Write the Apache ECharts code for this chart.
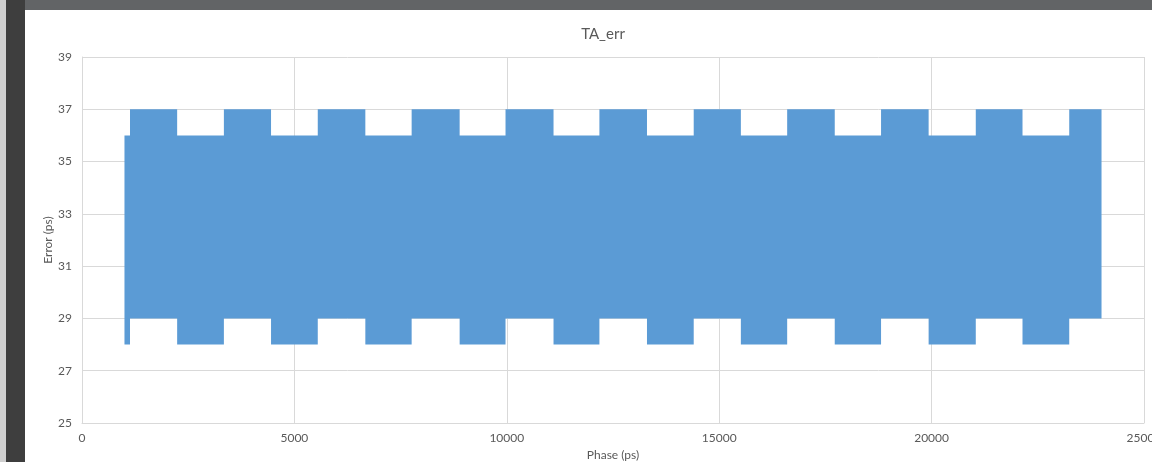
<!DOCTYPE html>
<html>
<head>
<meta charset="utf-8">
<title>TA_err</title>
<script src="https://cdn.jsdelivr.net/npm/echarts@6/dist/echarts.min.js"></script>
<style>
  html, body { margin: 0; padding: 0; }
  body { width: 1152px; height: 462px; position: relative; overflow: hidden; background: #5a5a5a; }
  .edge { position: absolute; left: 0; top: 0; width: 6px; height: 462px; background: #cfcfcf; }
  .strip { position: absolute; left: 6px; top: 0; width: 19px; height: 462px; background: #3e3e3e; }
  .topbar { position: absolute; left: 25px; top: 0; width: 1127px; height: 10px; background: #626466; }
  .paper { position: absolute; left: 25px; top: 10px; width: 1127px; height: 452px; background: #fff; }
  #main { position: absolute; left: 0; top: 0; width: 1152px; height: 462px; }
</style>
</head>
<body>
<div class="edge"></div>
<div class="strip"></div>
<div class="topbar"></div>
<div class="paper"></div>
<div id="main"></div>
<script>
// phase where each step of the error band starts / ends (ps)
const phaseEdges = [1000, 1130, 2240, 3340, 4450, 5550, 6670, 7760, 8890, 9970, 11100,
  12180, 13300, 14400, 15510, 16600, 17720, 18810, 19930, 21040, 22140, 23240, 24000]
// band top / bottom for each step (ps)
const errHigh = [36, 37, 36, 37, 36, 37, 36, 37, 36, 37, 36, 37, 36, 37, 36, 37, 36, 37, 36, 37, 36, 37]
const errLow  = [28, 29, 28, 29, 28, 29, 28, 29, 28, 29, 28, 29, 28, 29, 28, 29, 28, 29, 28, 29, 28, 29]

const xTicks = [0, 5000, 10000, 15000, 20000, 25000]
const yTicks = [25, 27, 29, 31, 33, 35, 37, 39]

const txt = '#595959'
const gridCol = '#d9d9d9'
const fam = 'Lato, "Open Sans", sans-serif'

const chart = echarts.init(document.getElementById('main'))
chart.setOption({
  backgroundColor: 'transparent',
  animation: false,
  title: {
    text: 'TA_err',
    left: 598,
    top: 22,
    textAlign: 'center',
    textStyle: { color: txt, fontSize: 15, fontWeight: 'normal', fontFamily: fam }
  },
  grid: { left: 82, right: 8, top: 57, bottom: 39, show: false, containLabel: false, outerBoundsMode: 'none' },
  xAxis: {
    type: 'value',
    min: xTicks[0],
    max: xTicks[xTicks.length - 1],
    interval: 5000,
    name: 'Phase (ps)',
    nameLocation: 'middle',
    nameGap: 26,
    nameTextStyle: { color: txt, fontSize: 12, fontFamily: fam },
    axisLine: { show: true, lineStyle: { color: gridCol } },
    axisTick: { show: false },
    axisLabel: { color: txt, fontSize: 12, fontFamily: fam, margin: 9, formatter: v => String(v) },
    splitLine: { show: true, lineStyle: { color: gridCol } }
  },
  yAxis: {
    type: 'value',
    min: yTicks[0],
    max: yTicks[yTicks.length - 1],
    interval: 2,
    name: 'Error (ps)',
    nameLocation: 'middle',
    nameGap: 28,
    nameMoveOverlap: false,
    nameTextStyle: { color: txt, fontSize: 12, fontFamily: fam },
    axisLine: { show: true, lineStyle: { color: gridCol } },
    axisTick: { show: false },
    axisLabel: { color: txt, fontSize: 12, fontFamily: fam, margin: 10 },
    splitLine: { show: true, lineStyle: { color: gridCol } }
  },
  series: [
    {
      type: 'custom',
      data: [[phaseEdges[0], errLow[0]]],
      renderItem: function (params, api) {
        // outline of the band: along the top left to right, then the bottom back
        const pts = []
        errHigh.forEach((h, i) => {
          pts.push(api.coord([phaseEdges[i], h]))
          pts.push(api.coord([phaseEdges[i + 1], h]))
        })
        for (let i = errLow.length - 1; i >= 0; i--) {
          pts.push(api.coord([phaseEdges[i + 1], errLow[i]]))
          pts.push(api.coord([phaseEdges[i], errLow[i]]))
        }
        return {
          type: 'polygon',
          shape: { points: pts },
          style: { fill: '#5b9bd5' }
        }
      }
    }
  ]
})
</script>
</body>
</html>
